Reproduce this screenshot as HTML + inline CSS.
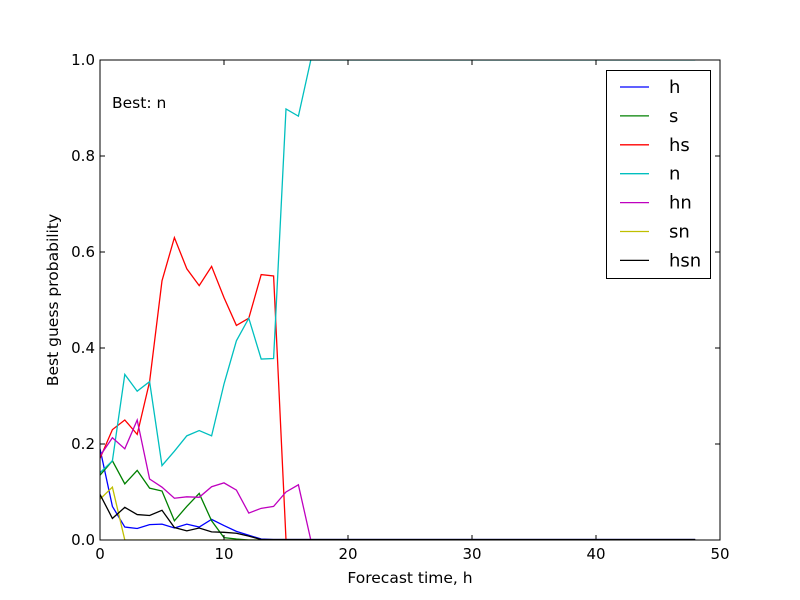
<!DOCTYPE html>
<html><head><meta charset="utf-8"><style>
html,body{margin:0;padding:0;background:#fff;}
svg{display:block;font-family:"DejaVu Sans","Liberation Sans",sans-serif;}
</style></head><body>
<svg id="chart" width="800" height="600" viewBox="0 0 800 600"></svg>
<script>
const xTicks=[0,10,20,30,40,50];
const yTicks=[0.0,0.2,0.4,0.6,0.8,1.0];
const yTickLabels=["0.0","0.2","0.4","0.6","0.8","1.0"];
const seriesNames=["h","s","hs","n","hn","sn","hsn"];
const seriesColors=["#0000ff","#008000","#ff0000","#00bfbf","#bf00bf","#bfbf00","#000000"];
const hVals=[0.19,0.07,0.027,0.024,0.032,0.033,0.025,0.033,0.027,0.043,0.03,0.018,0.01,0.002,0.001];
const sVals=[0.135,0.165,0.117,0.145,0.108,0.102,0.04,0.07,0.097,0.04,0.005,0.002,0];
const hsVals=[0.17,0.23,0.25,0.22,0.33,0.54,0.63,0.565,0.53,0.57,0.505,0.447,0.462,0.553,0.55,0];
const nVals=[0.14,0.165,0.345,0.31,0.33,0.155,0.185,0.217,0.228,0.217,0.325,0.415,0.462,0.377,0.378,0.898,0.883,1.0];
const hnVals=[0.175,0.213,0.19,0.25,0.127,0.11,0.087,0.09,0.089,0.111,0.119,0.104,0.056,0.066,0.07,0.1,0.115,0];
const snVals=[0.085,0.11,0];
const hsnVals=[0.095,0.045,0.068,0.053,0.051,0.062,0.026,0.019,0.025,0.017,0.016,0.014,0.008,0.001];
const lastX=48;
const X0=100,X1=720,Y0=540,Y1=60;
const xs=v=>X0+(v/50)*(X1-X0);
const ys=v=>Y0-v*(Y0-Y1);
const NS="http://www.w3.org/2000/svg";
const svg=document.getElementById('chart');
function mk(t,a){const e=document.createElementNS(NS,t);for(const k in a)e.setAttribute(k,a[k]);return e;}
const clip=mk('clipPath',{id:'pc'});clip.appendChild(mk('rect',{x:X0,y:Y1,width:X1-X0,height:Y0-Y1}));svg.appendChild(clip);
const all=[hVals,sVals,hsVals,nVals,hnVals,snVals,hsnVals];
all.forEach((vals,i)=>{
  const full=[];for(let k=0;k<=lastX;k++)full.push(k<vals.length?vals[k]:vals[vals.length-1]);
  const p=mk('polyline',{points:full.map((v,k)=>xs(k)+','+ys(v)).join(' '),fill:'none',stroke:seriesColors[i],'stroke-width':1.3,'clip-path':'url(#pc)'});
  
  
  svg.appendChild(p);
});
const frame=mk('rect',{x:X0,y:Y1,width:X1-X0,height:Y0-Y1,fill:'none',stroke:'#000','stroke-width':1});


svg.appendChild(frame);
xTicks.forEach(t=>{
  const x=xs(t);
  svg.appendChild(mk('line',{x1:x,y1:Y0,x2:x,y2:Y0-5,stroke:'#000'}));
  svg.appendChild(mk('line',{x1:x,y1:Y1,x2:x,y2:Y1+5,stroke:'#000'}));
  const tx=mk('text',{x:x,y:Y0+19,'text-anchor':'middle','font-size':15});tx.textContent=t;
  
  
  svg.appendChild(tx);
});
yTicks.forEach((t,i)=>{
  const y=ys(t);
  svg.appendChild(mk('line',{x1:X0,y1:y,x2:X0+5,y2:y,stroke:'#000'}));
  svg.appendChild(mk('line',{x1:X1,y1:y,x2:X1-5,y2:y,stroke:'#000'}));
  const tx=mk('text',{x:X0-5,y:y+5,'text-anchor':'end','font-size':15});tx.textContent=yTickLabels[i];
  
  
  svg.appendChild(tx);
});
const xl=mk('text',{x:410,y:583,'text-anchor':'middle','font-size':15.5});xl.textContent='Forecast time, h';


svg.appendChild(xl);
const yl=mk('text',{x:58,y:300,'text-anchor':'middle','font-size':15.5,transform:'rotate(-90 58 300)'});yl.textContent='Best guess probability';


svg.appendChild(yl);
const bt=mk('text',{x:112,y:108,'font-size':15.5});bt.textContent='Best: n';


svg.appendChild(bt);
const lg=mk('rect',{x:606.5,y:70.5,width:104,height:208,fill:'#fff',stroke:'#000'});


svg.appendChild(lg);
seriesNames.forEach((n,i)=>{
  const y=87+i*28.9;
  const g=mk('g',{});
  
  
  g.appendChild(mk('line',{x1:620,y1:y,x2:649,y2:y,stroke:seriesColors[i],'stroke-width':1.3}));
  const t=mk('text',{x:669,y:y+6,'font-size':18});t.textContent=n;g.appendChild(t);
  svg.appendChild(g);
});
</script>
</body></html>
